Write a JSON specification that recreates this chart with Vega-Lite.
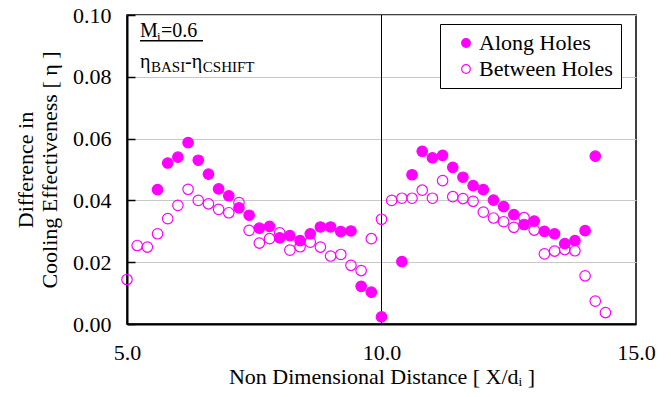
{
  "$schema": "https://vega.github.io/schema/vega-lite/v6.json",
  "width": 509,
  "height": 309,
  "autosize": {"type": "none"},
  "padding": {"left": 127, "top": 15, "right": 35, "bottom": 73},
  "background": "white",
  "config": {
    "font": "Liberation Serif",
    "view": {"stroke": "black", "strokeWidth": 1.5},
    "text": {"font": "Liberation Serif"},
    "legend": {"labelFont": "Liberation Serif", "titleFont": "Liberation Serif"},
    "axis": {
      "labelFont": "Liberation Serif",
      "titleFont": "Liberation Serif",
      "labelFontSize": 22,
      "titleFontSize": 22,
      "titleFontWeight": "normal",
      "labelColor": "black",
      "titleColor": "black",
      "domainColor": "black",
      "domainWidth": 2,
      "gridColor": "#c8c8c8",
      "gridWidth": 1,
      "tickColor": "black",
      "tickWidth": 1.5,
      "labelFlush": false
    }
  },
  "data": {
    "values": [
      {"x": 5.6, "y": 0.0435, "series": "Along Holes"},
      {"x": 5.8, "y": 0.0521, "series": "Along Holes"},
      {"x": 6.0, "y": 0.054, "series": "Along Holes"},
      {"x": 6.2, "y": 0.0587, "series": "Along Holes"},
      {"x": 6.4, "y": 0.053, "series": "Along Holes"},
      {"x": 6.6, "y": 0.0485, "series": "Along Holes"},
      {"x": 6.8, "y": 0.0437, "series": "Along Holes"},
      {"x": 7.0, "y": 0.0415, "series": "Along Holes"},
      {"x": 7.2, "y": 0.0376, "series": "Along Holes"},
      {"x": 7.4, "y": 0.0352, "series": "Along Holes"},
      {"x": 7.6, "y": 0.031, "series": "Along Holes"},
      {"x": 7.8, "y": 0.0316, "series": "Along Holes"},
      {"x": 8.0, "y": 0.0279, "series": "Along Holes"},
      {"x": 8.2, "y": 0.0286, "series": "Along Holes"},
      {"x": 8.4, "y": 0.027, "series": "Along Holes"},
      {"x": 8.6, "y": 0.0292, "series": "Along Holes"},
      {"x": 8.8, "y": 0.0314, "series": "Along Holes"},
      {"x": 9.0, "y": 0.0314, "series": "Along Holes"},
      {"x": 9.2, "y": 0.0299, "series": "Along Holes"},
      {"x": 9.4, "y": 0.0301, "series": "Along Holes"},
      {"x": 9.6, "y": 0.0122, "series": "Along Holes"},
      {"x": 9.8, "y": 0.0103, "series": "Along Holes"},
      {"x": 10.0, "y": 0.0023, "series": "Along Holes"},
      {"x": 10.4, "y": 0.0202, "series": "Along Holes"},
      {"x": 10.6, "y": 0.0483, "series": "Along Holes"},
      {"x": 10.8, "y": 0.0559, "series": "Along Holes"},
      {"x": 11.0, "y": 0.0538, "series": "Along Holes"},
      {"x": 11.2, "y": 0.0546, "series": "Along Holes"},
      {"x": 11.4, "y": 0.0507, "series": "Along Holes"},
      {"x": 11.6, "y": 0.0475, "series": "Along Holes"},
      {"x": 11.8, "y": 0.0448, "series": "Along Holes"},
      {"x": 12.0, "y": 0.0435, "series": "Along Holes"},
      {"x": 12.2, "y": 0.0401, "series": "Along Holes"},
      {"x": 12.4, "y": 0.038, "series": "Along Holes"},
      {"x": 12.6, "y": 0.0354, "series": "Along Holes"},
      {"x": 12.8, "y": 0.0322, "series": "Along Holes"},
      {"x": 13.0, "y": 0.0333, "series": "Along Holes"},
      {"x": 13.2, "y": 0.030, "series": "Along Holes"},
      {"x": 13.4, "y": 0.0292, "series": "Along Holes"},
      {"x": 13.6, "y": 0.026, "series": "Along Holes"},
      {"x": 13.8, "y": 0.027, "series": "Along Holes"},
      {"x": 14.0, "y": 0.0302, "series": "Along Holes"},
      {"x": 14.2, "y": 0.0543, "series": "Along Holes"},
      {"x": 5.0, "y": 0.0144, "series": "Between Holes"},
      {"x": 5.2, "y": 0.0254, "series": "Between Holes"},
      {"x": 5.4, "y": 0.0249, "series": "Between Holes"},
      {"x": 5.6, "y": 0.0292, "series": "Between Holes"},
      {"x": 5.8, "y": 0.0341, "series": "Between Holes"},
      {"x": 6.0, "y": 0.0384, "series": "Between Holes"},
      {"x": 6.2, "y": 0.0436, "series": "Between Holes"},
      {"x": 6.4, "y": 0.040, "series": "Between Holes"},
      {"x": 6.6, "y": 0.0389, "series": "Between Holes"},
      {"x": 6.8, "y": 0.0371, "series": "Between Holes"},
      {"x": 7.0, "y": 0.036, "series": "Between Holes"},
      {"x": 7.2, "y": 0.0393, "series": "Between Holes"},
      {"x": 7.4, "y": 0.0303, "series": "Between Holes"},
      {"x": 7.6, "y": 0.0262, "series": "Between Holes"},
      {"x": 7.8, "y": 0.0276, "series": "Between Holes"},
      {"x": 8.0, "y": 0.0295, "series": "Between Holes"},
      {"x": 8.2, "y": 0.0239, "series": "Between Holes"},
      {"x": 8.4, "y": 0.025, "series": "Between Holes"},
      {"x": 8.6, "y": 0.0265, "series": "Between Holes"},
      {"x": 8.8, "y": 0.0249, "series": "Between Holes"},
      {"x": 9.0, "y": 0.022, "series": "Between Holes"},
      {"x": 9.2, "y": 0.0225, "series": "Between Holes"},
      {"x": 9.4, "y": 0.019, "series": "Between Holes"},
      {"x": 9.6, "y": 0.0173, "series": "Between Holes"},
      {"x": 9.8, "y": 0.0276, "series": "Between Holes"},
      {"x": 10.0, "y": 0.0339, "series": "Between Holes"},
      {"x": 10.2, "y": 0.040, "series": "Between Holes"},
      {"x": 10.4, "y": 0.0407, "series": "Between Holes"},
      {"x": 10.6, "y": 0.0407, "series": "Between Holes"},
      {"x": 10.8, "y": 0.0433, "series": "Between Holes"},
      {"x": 11.0, "y": 0.0407, "series": "Between Holes"},
      {"x": 11.2, "y": 0.0464, "series": "Between Holes"},
      {"x": 11.4, "y": 0.0412, "series": "Between Holes"},
      {"x": 11.6, "y": 0.0406, "series": "Between Holes"},
      {"x": 11.8, "y": 0.0397, "series": "Between Holes"},
      {"x": 12.0, "y": 0.0362, "series": "Between Holes"},
      {"x": 12.2, "y": 0.0343, "series": "Between Holes"},
      {"x": 12.4, "y": 0.0331, "series": "Between Holes"},
      {"x": 12.6, "y": 0.0313, "series": "Between Holes"},
      {"x": 12.8, "y": 0.0344, "series": "Between Holes"},
      {"x": 13.0, "y": 0.0304, "series": "Between Holes"},
      {"x": 13.2, "y": 0.0227, "series": "Between Holes"},
      {"x": 13.4, "y": 0.0236, "series": "Between Holes"},
      {"x": 13.6, "y": 0.0241, "series": "Between Holes"},
      {"x": 13.8, "y": 0.0237, "series": "Between Holes"},
      {"x": 14.0, "y": 0.0156, "series": "Between Holes"},
      {"x": 14.2, "y": 0.0074, "series": "Between Holes"},
      {"x": 14.4, "y": 0.0037, "series": "Between Holes"}
    ]
  },
  "layer": [
    {
      "data": {"values": [{}]},
      "mark": {"type": "rule", "color": "black", "strokeWidth": 1},
      "encoding": {"x": {"datum": 10, "type": "quantitative", "scale": {"domain": [5, 15], "nice": false}}}
    },
    {
      "mark": {"type": "point", "shape": "circle", "filled": true, "stroke": "#ff00ff", "strokeWidth": 1.2, "opacity": 1, "size": 110},
      "encoding": {
        "x": {
          "field": "x", "type": "quantitative",
          "scale": {"domain": [5, 15], "nice": false},
          "axis": {
            "values": [5, 6, 7, 8, 9, 10, 11, 12, 13, 14, 15],
            "labelExpr": "datum.value % 5 === 0 ? format(datum.value, '.1f') : ''",
            "tickSize": 0,
            "labelPadding": 18,
            "title": "Non Dimensional Distance [ X/dᵢ ]",
            "titlePadding": 3
          }
        },
        "y": {
          "field": "y", "type": "quantitative",
          "scale": {"domain": [0, 0.1], "nice": false},
          "axis": {
            "values": [0, 0.02, 0.04, 0.06, 0.08, 0.1],
            "format": ".2f",
            "tickSize": -8,
            "labelPadding": 24,
            "title": ["Difference in", "Cooling Effectiveness  [ η ]"],
            "titlePadding": 11
          }
        },
        "fill": {
          "field": "series", "type": "nominal",
          "scale": {"domain": ["Along Holes", "Between Holes"], "range": ["#ff00ff", "transparent"]},
          "legend": {
            "title": null,
            "orient": "none",
            "legendX": 313,
            "legendY": 9,
            "strokeColor": "black",
            "fillColor": "white",
            "padding": 8,
            "labelFont": "Liberation Serif",
            "labelFontSize": 22,
            "labelColor": "black",
            "symbolSize": 75,
            "symbolStrokeColor": "#ff00ff",
            "symbolStrokeWidth": 1.2,
            "symbolOffset": 7,
            "labelOffset": 2,
            "rowPadding": 4
          }
        }
      }
    },
    {
      "data": {"values": [{}]},
      "mark": {"type": "text", "text": "M", "font": "Liberation Serif", "fontSize": 20, "align": "left", "baseline": "alphabetic", "color": "black"},
      "encoding": {"x": {"datum": 5.255, "type": "quantitative"}, "y": {"datum": 0.0929, "type": "quantitative"}}
    },
    {
      "data": {"values": [{}]},
      "mark": {"type": "text", "text": "i", "font": "Liberation Serif", "fontSize": 13, "align": "left", "baseline": "alphabetic", "color": "black"},
      "encoding": {"x": {"datum": 5.589, "type": "quantitative"}, "y": {"datum": 0.0916, "type": "quantitative"}}
    },
    {
      "data": {"values": [{}]},
      "mark": {"type": "text", "text": "=0.6", "font": "Liberation Serif", "fontSize": 20, "align": "left", "baseline": "alphabetic", "color": "black"},
      "encoding": {"x": {"datum": 5.668, "type": "quantitative"}, "y": {"datum": 0.0929, "type": "quantitative"}}
    },
    {
      "data": {"values": [{}]},
      "mark": {"type": "rule", "color": "black", "strokeWidth": 1.5},
      "encoding": {"x": {"datum": 5.255, "type": "quantitative"}, "x2": {"datum": 6.493}, "y": {"datum": 0.0917, "type": "quantitative"}}
    },
    {
      "data": {"values": [{}]},
      "mark": {"type": "text", "text": "η", "font": "Liberation Serif", "fontSize": 20, "align": "left", "baseline": "alphabetic", "color": "black"},
      "encoding": {"x": {"datum": 5.255, "type": "quantitative"}, "y": {"datum": 0.0828, "type": "quantitative"}}
    },
    {
      "data": {"values": [{}]},
      "mark": {"type": "text", "text": "BASI", "font": "Liberation Serif", "fontSize": 15, "align": "left", "baseline": "alphabetic", "color": "black"},
      "encoding": {"x": {"datum": 5.4715, "type": "quantitative"}, "y": {"datum": 0.0815, "type": "quantitative"}}
    },
    {
      "data": {"values": [{}]},
      "mark": {"type": "text", "text": "-", "font": "Liberation Serif", "fontSize": 20, "align": "left", "baseline": "alphabetic", "color": "black"},
      "encoding": {"x": {"datum": 6.14, "type": "quantitative"}, "y": {"datum": 0.0828, "type": "quantitative"}}
    },
    {
      "data": {"values": [{}]},
      "mark": {"type": "text", "text": "η", "font": "Liberation Serif", "fontSize": 20, "align": "left", "baseline": "alphabetic", "color": "black"},
      "encoding": {"x": {"datum": 6.27, "type": "quantitative"}, "y": {"datum": 0.0828, "type": "quantitative"}}
    },
    {
      "data": {"values": [{}]},
      "mark": {"type": "text", "text": "CSHIFT", "font": "Liberation Serif", "fontSize": 15, "align": "left", "baseline": "alphabetic", "color": "black"},
      "encoding": {"x": {"datum": 6.49, "type": "quantitative"}, "y": {"datum": 0.0815, "type": "quantitative"}}
    }
  ]
}
